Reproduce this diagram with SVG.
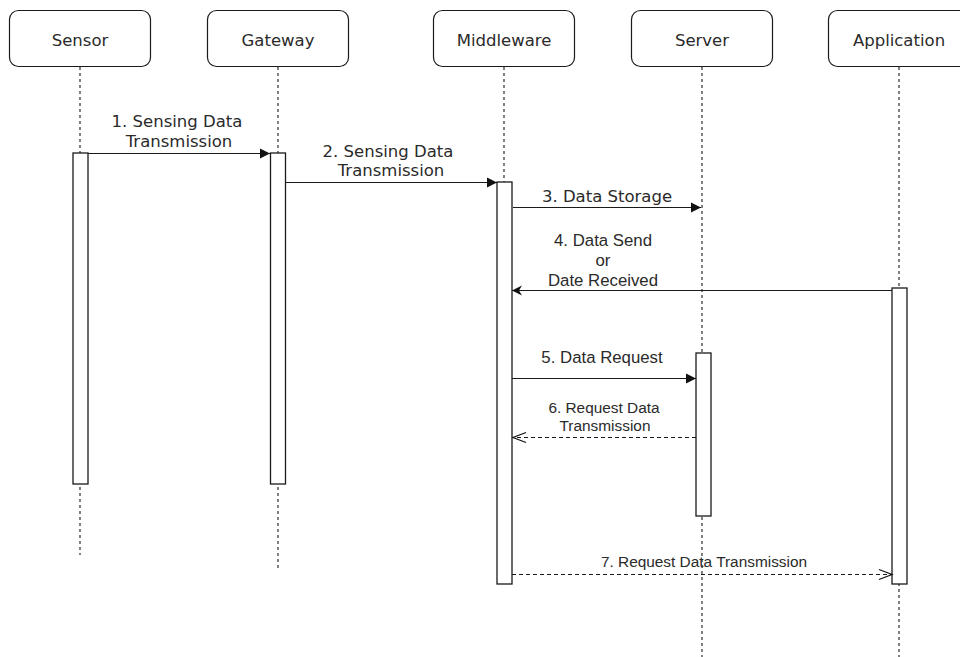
<svg xmlns="http://www.w3.org/2000/svg" width="960" height="657" viewBox="0 0 960 657">
<defs>
<style>
.box{fill:#fff;stroke:#1a1a1a;stroke-width:1.2}
.act{fill:#fff;stroke:#1a1a1a;stroke-width:1.3}
.life{stroke:#1a1a1a;stroke-width:1.1;stroke-dasharray:3 3;fill:none}
.msg{stroke:#1a1a1a;stroke-width:1.2;fill:none}
.ret{stroke:#1a1a1a;stroke-width:1.2;fill:none;stroke-dasharray:4 3}
.t1{font-family:"DejaVu Sans",Verdana,sans-serif;font-size:16.5px;fill:#2a2a2a;text-anchor:middle}
.t2{font-family:"Liberation Sans",Arial,sans-serif;font-size:16.8px;fill:#2a2a2a;text-anchor:middle}
.t3{font-family:"Liberation Sans",Arial,sans-serif;font-size:15.4px;fill:#2a2a2a;text-anchor:middle}
</style>
<marker id="block" markerWidth="11" markerHeight="11" refX="10" refY="5.5" orient="auto" markerUnits="userSpaceOnUse">
<path d="M0,0.5 L10,5.5 L0,10.5 Z" fill="#111"/>
</marker>
<marker id="classic" markerWidth="12" markerHeight="12" refX="10" refY="6" orient="auto" markerUnits="userSpaceOnUse">
<path d="M0,1 L10,6 L0,11 L3,6 Z" fill="#111"/>
</marker>
<marker id="open" markerWidth="16" markerHeight="14" refX="14" refY="7" orient="auto" markerUnits="userSpaceOnUse">
<path d="M1,2 L14,7 L1,12" fill="none" stroke="#111" stroke-width="1.2"/>
</marker>
</defs>
<rect width="960" height="657" fill="#fff"/>

<g id="lifelines">
<line class="life" x1="80" y1="67" x2="80" y2="555"/>
<line class="life" x1="278" y1="67" x2="278" y2="571"/>
<line class="life" x1="504" y1="67" x2="504" y2="182"/>
<line class="life" x1="702" y1="67" x2="702" y2="657"/>
<line class="life" x1="899" y1="67" x2="899" y2="657"/>
</g>

<g id="sensor">
<rect class="box" x="9.5" y="10.5" width="141" height="56" rx="9"/>
<text class="t1" x="80" y="46">Sensor</text>
<rect class="act" x="73" y="153" width="15" height="331"/>
</g>
<g id="gateway">
<rect class="box" x="207.5" y="10.5" width="141" height="56" rx="9"/>
<text class="t1" x="278" y="46">Gateway</text>
<rect class="act" x="270.5" y="153" width="15" height="331"/>
</g>
<g id="middleware">
<rect class="box" x="433.5" y="10.5" width="141" height="56" rx="9"/>
<text class="t1" x="504" y="46">Middleware</text>
<rect class="act" x="497" y="182" width="15" height="402"/>
</g>
<g id="server">
<rect class="box" x="631.5" y="10.5" width="141" height="56" rx="9"/>
<text class="t1" x="702" y="46">Server</text>
<rect class="act" x="696" y="353" width="15" height="163"/>
</g>
<g id="application">
<rect class="box" x="828.5" y="10.5" width="141" height="56" rx="9"/>
<text class="t1" x="899" y="46">Application</text>
<rect class="act" x="892" y="288" width="15" height="296"/>
</g>

<g id="connectors">
<line class="msg" x1="88" y1="153.5" x2="270" y2="153.5" marker-end="url(#block)"/>
<line class="msg" x1="285.5" y1="182.5" x2="497" y2="182.5" marker-end="url(#block)"/>
<line class="msg" x1="513" y1="207.5" x2="701" y2="207.5" marker-end="url(#block)"/>
<line class="msg" x1="892" y1="290.5" x2="512" y2="290.5" marker-end="url(#classic)"/>
<line class="msg" x1="512" y1="378.5" x2="696" y2="378.5" marker-end="url(#block)"/>
<line class="ret" x1="696" y1="437.5" x2="513" y2="437.5" marker-end="url(#open)"/>
<line class="ret" x1="512" y1="574.5" x2="892" y2="574.5" marker-end="url(#open)"/>
</g>

<g id="labels">
<text class="t1" x="177" y="127">1. Sensing Data</text>
<text class="t1" x="179" y="147">Transmission</text>
<text class="t1" x="388" y="157">2. Sensing Data</text>
<text class="t1" x="391" y="176">Transmission</text>
<text class="t1" x="607" y="202">3. Data Storage</text>
<text class="t2" x="603" y="246">4. Data Send</text>
<text class="t2" x="603" y="266">or</text>
<text class="t2" x="603" y="286">Date Received</text>
<text class="t2" x="602" y="363">5. Data Request</text>
<text class="t3" x="604" y="413">6. Request Data</text>
<text class="t3" x="605" y="431">Transmission</text>
<text class="t3" x="704" y="567">7. Request Data Transmission</text>
</g>
</svg>
